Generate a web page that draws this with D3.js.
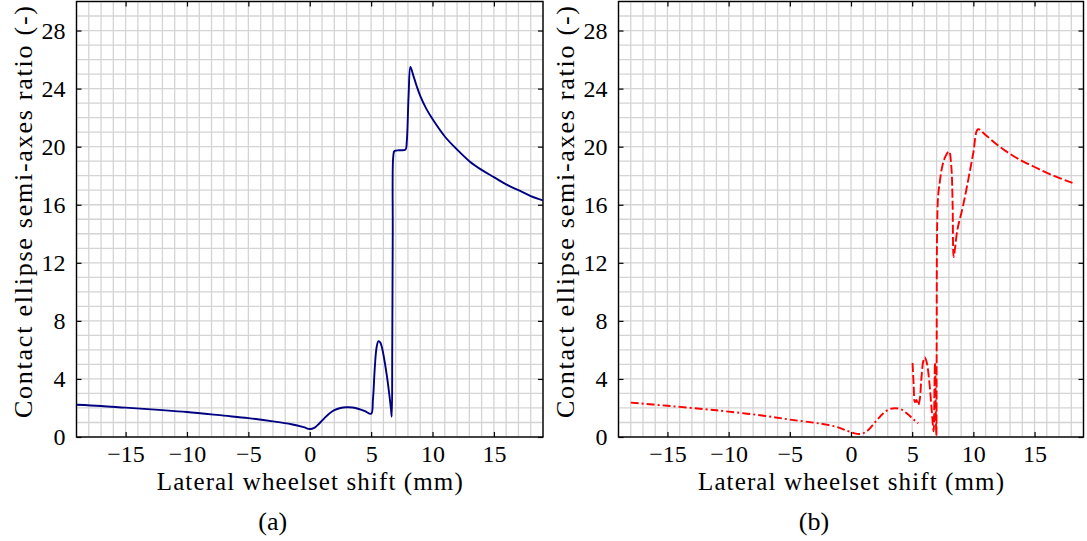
<!DOCTYPE html>
<html>
<head>
<meta charset="utf-8">
<script src="https://cdn.jsdelivr.net/npm/d3@7"></script>
<style>
  body { margin: 0; background: #fff; }
  svg text { font-family: 'Liberation Serif', 'DejaVu Serif', 'Times New Roman', serif !important; fill: #000; }
</style>
</head>
<body>
<svg id="fig" width="1087" height="541"></svg>
<script>
// tick labels
const xTicks = [-15, -10, -5, 0, 5, 10, 15];
const yTicks = [0, 4, 8, 12, 16, 20, 24, 28];

// (a) solid curve
const shiftA = [-19, -17, -15, -12, -10, -7, -5, -3, -1.5, -0.5, 0, 0.4, 0.8, 1.2, 1.6, 2, 2.5, 3, 3.5, 4, 4.5, 5,
                5.15, 5.3, 5.45, 5.6, 5.75, 5.9, 6.1, 6.3, 6.5, 6.62, 6.68,
                6.72, 6.76, 6.8, 6.9, 7.3, 7.8, 7.9, 8.05, 8.2, 8.4, 8.7, 9, 9.5, 10, 11, 12, 13, 14, 15, 16, 17, 18, 19];
const ratioA = [2.22, 2.14, 2.02, 1.85, 1.72, 1.47, 1.3, 1.08, 0.88, 0.68, 0.55, 0.65, 0.95, 1.3, 1.62, 1.85, 2.0, 2.05, 2.03, 1.93, 1.78, 1.6,
                2.6, 4.8, 6.2, 6.6, 6.5, 6.1, 5.2, 4.1, 2.8, 1.9, 1.4,
                6, 14, 19.3, 19.7, 19.75, 19.8, 20.3, 23.5, 25.5, 25.0, 24.2, 23.5, 22.6, 21.9, 20.7, 19.8, 19.0, 18.4, 17.9, 17.4, 17.0, 16.6, 16.3];

// (b) dash-dot branch
const shiftB1 = [-18, -15, -12, -10, -7, -5, -3, -2, -1, -0.3, 0.3, 0.8, 1.3, 2, 2.6, 3.1, 3.6, 4.1, 4.6, 5.1, 5.5];
const ratioB1 = [2.37, 2.15, 1.92, 1.75, 1.45, 1.2, 0.98, 0.85, 0.65, 0.42, 0.25, 0.22, 0.4, 1.05, 1.6, 1.9, 1.98, 1.9, 1.6, 1.22, 0.94];

// (b) dashed branch
const shiftB2 = [5.03, 5.12, 5.22, 5.35, 5.49, 5.62, 5.75, 5.9, 6.03, 6.2, 6.4, 6.6, 6.75, 6.82, 6.86, 6.92, 6.97,
                 7.0, 7.04, 7.12, 7.26, 7.45, 7.7, 8.01, 8.2, 8.3, 8.39, 8.5, 8.7, 9.15, 9.6, 10.0, 10.38,
                 11.0, 12, 13, 14, 15, 16, 17, 18.1];
const ratioB2 = [5.1, 3.6, 2.4, 2.55, 2.2, 2.6, 4.0, 5.2, 5.5, 5.1, 3.8, 1.8, 0.4, 3.5, 5.1, 2.0, 0.1,
                 6.0, 14.5, 16.6, 17.6, 18.6, 19.3, 19.68, 18.6, 16.2, 12.4, 13.0, 14.3, 15.9, 17.8, 19.6, 21.2,
                 20.8, 20.1, 19.5, 19.0, 18.6, 18.2, 17.85, 17.5];

const yLabel = 'Contact ellipse semi-axes ratio (-)';
const xLabel = 'Lateral wheelset shift (mm)';
const serif = "'Liberation Serif', 'DejaVu Serif', serif";

function draw_panel(svg, id, left, right, top, bottom, caption)
{
    let x = d3.scaleLinear().domain([-19, 19]).range([left, right]);
    let y = d3.scaleLinear().domain([0, 30]).range([bottom, top]);
    let g = svg.append('g');

    g.append('clipPath').attr('id', `clip-${id}`)
        .append('rect')
        .attr('x', left).attr('y', top)
        .attr('width', right - left).attr('height', bottom - top);

    // grid every 1 unit
    g.selectAll('.vgrid')
        .data(d3.range(-19, 20))
        .enter()
        .append('line')
        .attr('x1', d => x(d)).attr('x2', d => x(d))
        .attr('y1', top).attr('y2', bottom)
        .style('stroke', '#d4d4d4').style('stroke-width', 1.3);
    g.selectAll('.hgrid')
        .data(d3.range(0, 31))
        .enter()
        .append('line')
        .attr('y1', d => y(d)).attr('y2', d => y(d))
        .attr('x1', left).attr('x2', right)
        .style('stroke', '#d4d4d4').style('stroke-width', 1.3);

    // axes, ticks inside
    let bottomAxis = d3.axisBottom(x).tickValues(xTicks).tickSizeInner(-5).tickSizeOuter(0).tickPadding(8);
    let topAxis = d3.axisTop(x).tickValues(xTicks).tickSizeInner(-5).tickSizeOuter(0).tickFormat('');
    let leftAxis = d3.axisLeft(y).tickValues(yTicks).tickSizeInner(-5).tickSizeOuter(0).tickPadding(11);
    let rightAxis = d3.axisRight(y).tickValues(yTicks).tickSizeInner(-5).tickSizeOuter(0).tickFormat('');

    let axes = [
        g.append('g').attr('transform', `translate(0,${bottom})`).call(bottomAxis),
        g.append('g').attr('transform', `translate(0,${top})`).call(topAxis),
        g.append('g').attr('transform', `translate(${left},0)`).call(leftAxis),
        g.append('g').attr('transform', `translate(${right},0)`).call(rightAxis)
    ];
    axes.forEach(a => {
        a.attr('font-family', serif).attr('font-size', 24);
        a.select('.domain').remove();
        a.selectAll('line').style('stroke', '#000').style('stroke-width', 1.2);
        a.selectAll('text').style('fill', '#000');
    });

    g.append('rect')
        .attr('x', left).attr('y', top)
        .attr('width', right - left).attr('height', bottom - top)
        .style('fill', 'none').style('stroke', '#000').style('stroke-width', 1.4);

    g.append('text')
        .attr('x', (left + right) / 2).attr('y', 490)
        .attr('text-anchor', 'middle')
        .attr('font-family', serif).attr('font-size', 25)
        .attr('textLength', 306).attr('lengthAdjust', 'spacing')
        .text(xLabel);

    g.append('text')
        .attr('transform', `translate(${left - 45},212) rotate(-90)`)
        .attr('text-anchor', 'middle')
        .attr('font-family', serif).attr('font-size', 26)
        .attr('textLength', 412).attr('lengthAdjust', 'spacing')
        .text(yLabel);

    g.append('text')
        .attr('x', (left + right) / 2 - 37).attr('y', 530)
        .attr('text-anchor', 'middle')
        .attr('font-family', serif).attr('font-size', 26)
        .text(caption);

    return {x: x, y: y, g: g};
}

function add_curve(p, id, xs, ys, color, dash)
{
    let pts = xs.map((d, i) => [d, ys[i]]);
    let line = d3.line()
        .x(d => p.x(d[0]))
        .y(d => p.y(d[1]))
        .curve(d3.curveCatmullRom.alpha(0.5));
    p.g.append('path')
        .datum(pts)
        .attr('d', line)
        .attr('clip-path', `url(#clip-${id})`)
        .style('fill', 'none')
        .style('stroke', color)
        .style('stroke-width', 1.9)
        .style('stroke-dasharray', dash)
        .style('stroke-linejoin', 'round');
}

let svg = d3.select('#fig');
let pa = draw_panel(svg, 'a', 76.5, 543, 1.5, 437, '(a)');
add_curve(pa, 'a', shiftA, ratioA, '#000080', null);

let pb = draw_panel(svg, 'b', 618.5, 1083.5, 1.5, 437, '(b)');
add_curve(pb, 'b', shiftB1, ratioB1, '#ff0000', '8,3,2,3');
add_curve(pb, 'b', shiftB2, ratioB2, '#ff0000', '9,3');
</script>
</body>
</html>
